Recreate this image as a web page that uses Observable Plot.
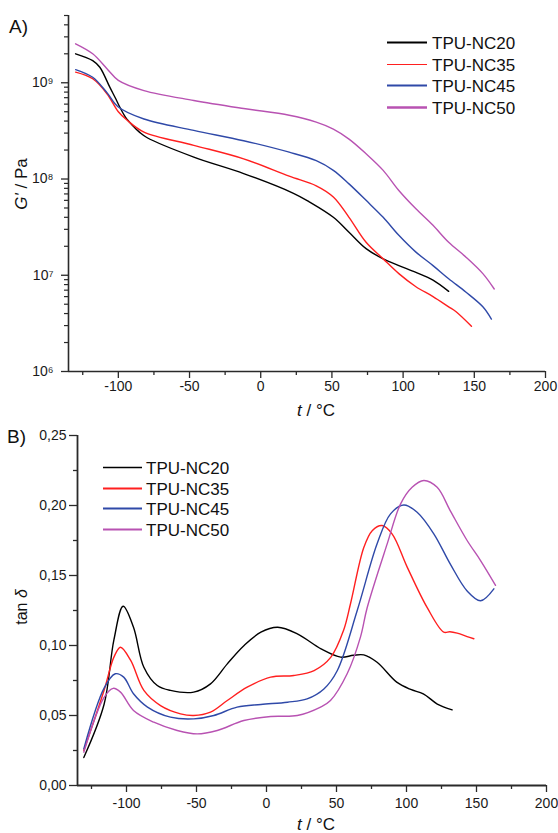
<!DOCTYPE html>
<html>
<head>
<meta charset="utf-8">
<script src="https://cdn.jsdelivr.net/npm/d3@7"></script>
<script src="https://cdn.jsdelivr.net/npm/@observablehq/plot@0.6"></script>
<style>
  html, body { margin: 0; padding: 0; background: #fff; }
  #chart svg { display: block; }
</style>
</head>
<body>
<div id="chart" style="width:558px"></div>
<script>
// ---------- series ----------
const series = ["TPU-NC20", "TPU-NC35", "TPU-NC45", "TPU-NC50"];
const colors = ["#000000", "#ff1f1f", "#2f49a8", "#b852b2"];

// ---------- A) storage modulus G' (Pa) vs t (°C) ----------
const g20T = [-130, -118, -113, -106, -102, -99, -95, -90, -85, -80, -47, -12, 23, 34, 51, 62, 74, 86, 97, 109, 121, 132];
const g20V = [2.0e9, 1.70e9, 1.45e9, 9.0e8, 6.9e8, 5.6e8, 4.4e8, 3.6e8, 3.05e8, 2.7e8, 1.69e8, 1.14e8, 7.1e7, 5.8e7, 4.0e7, 2.8e7, 1.89e7, 1.48e7, 1.26e7, 1.07e7, 8.9e6, 6.8e6];

const g35T = [-130, -118, -108, -100, -94, -82, -47, -12, 20, 39, 51, 62, 74, 86, 97, 109, 121, 132, 137, 148];
const g35V = [1.29e9, 1.10e9, 7.7e8, 5.0e8, 4.1e8, 3.07e8, 2.24e8, 1.62e8, 1.07e8, 8.5e7, 6.5e7, 4.0e7, 2.2e7, 1.48e7, 1.04e7, 7.6e6, 6.0e6, 4.7e6, 4.2e6, 2.95e6];

const g45T = [-130, -118, -108, -100, -82, -47, -12, 20, 39, 51, 62, 74, 86, 97, 109, 121, 132, 144, 156, 162];
const g45V = [1.37e9, 1.14e9, 7.9e8, 5.6e8, 4.2e8, 3.2e8, 2.5e8, 1.9e8, 1.55e8, 1.23e8, 8.9e7, 6.0e7, 4.0e7, 2.6e7, 1.74e7, 1.26e7, 9.2e6, 6.7e6, 4.7e6, 3.5e6];

const g50T = [-130, -118, -108, -100, -82, -47, -12, 20, 39, 51, 62, 74, 86, 97, 109, 121, 132, 144, 156, 164];
const g50V = [2.54e9, 2.0e9, 1.40e9, 1.06e9, 8.3e8, 6.55e8, 5.4e8, 4.6e8, 3.9e8, 3.3e8, 2.6e8, 1.83e8, 1.23e8, 7.6e7, 4.9e7, 3.3e7, 2.2e7, 1.55e7, 1.04e7, 7.2e6];

// ---------- B) tan δ vs t (°C) ----------
const d20T = [-130.5, -116, -109, -102.4, -95, -87.6, -78, -68.6, -52, -40, -28, -16, -4, 8, 22, 39, 53, 62, 69.5, 79, 93, 103, 112, 122, 132.6];
const d20V = [0.020, 0.058, 0.104, 0.128, 0.113, 0.0845, 0.0714, 0.0679, 0.0667, 0.0726, 0.0869, 0.100, 0.1095, 0.113, 0.1083, 0.0976, 0.0917, 0.093, 0.0933, 0.088, 0.0738, 0.0686, 0.0655, 0.0582, 0.054];

const d35T = [-130.5, -116, -109, -104.3, -97, -87.6, -75.7, -61.4, -52, -40, -28, -13.8, 3, 19.5, 34, 46, 55, 60, 69.5, 75.5, 82.6, 89.8, 100.5, 114.8, 126.6, 131, 136.2, 143.3, 148.1];
const d35V = [0.025, 0.068, 0.0917, 0.0988, 0.0893, 0.0679, 0.0571, 0.0512, 0.050, 0.0524, 0.0607, 0.0702, 0.0774, 0.0786, 0.0821, 0.0917, 0.1107, 0.1298, 0.170, 0.182, 0.1857, 0.1796, 0.156, 0.127, 0.1095, 0.1098, 0.1088, 0.1064, 0.1048];

const d45T = [-130.5, -116, -108, -102, -95, -85, -68.6, -52, -37.6, -21, -4, 15, 29, 41, 50.5, 64.8, 79, 88.6, 98.1, 107.6, 119.5, 131.4, 143.3, 152.9, 162.4];
const d45V = [0.0262, 0.0695, 0.0798, 0.0774, 0.0655, 0.056, 0.0488, 0.0476, 0.050, 0.056, 0.0579, 0.0595, 0.0619, 0.069, 0.082, 0.125, 0.1726, 0.194, 0.2004, 0.1952, 0.1798, 0.158, 0.139, 0.132, 0.1405];

const d50T = [-130.5, -116, -109.5, -104.3, -95, -80.5, -63.8, -49.5, -35.2, -16.2, 3, 22, 38.6, 45.7, 57.6, 67.1, 71.9, 86.2, 95.7, 104, 112.4, 121.9, 131.4, 143.3, 152.9, 163.6];
const d50V = [0.0238, 0.063, 0.0694, 0.0667, 0.0536, 0.0452, 0.0393, 0.0369, 0.0393, 0.0464, 0.0493, 0.050, 0.056, 0.0607, 0.0798, 0.106, 0.127, 0.1726, 0.201, 0.213, 0.2179, 0.213, 0.196, 0.175, 0.1607, 0.143];

// ---------- ticks ----------
const xMajor = [-100, -50, 0, 50, 100, 150, 200];
const xMinor = [-125, -75, -25, 25, 75, 125, 175];
const gMajor = [1e6, 1e7, 1e8, 1e9];
const gLabels = ["10\u2076", "10\u2077", "10\u2078", "10\u2079"];
const tanMajor = [0, 0.05, 0.10, 0.15, 0.20, 0.25];
const tanLabels = ["0,00", "0,05", "0,10", "0,15", "0,20", "0,25"];
const tanMinor = [0.025, 0.075, 0.125, 0.175, 0.225];

// ---------- build tables ----------
const rows = (name, ts, vs) => ts.map((t, i) => ({series: name, t, v: vs[i]}));
const gRows = [
  ...rows(series[0], g20T, g20V), ...rows(series[1], g35T, g35V),
  ...rows(series[2], g45T, g45V), ...rows(series[3], g50T, g50V)
];
const dRows = [
  ...rows(series[0], d20T, d20V), ...rows(series[1], d35T, d35V),
  ...rows(series[2], d45T, d45V), ...rows(series[3], d50T, d50V)
];
const gMinor = [];
for (const dec of [1e6, 1e7, 1e8, 1e9]) for (let k = 2; k <= 9; k++) if (k * dec <= 5e9) gMinor.push(k * dec);

const FONT = "'Liberation Sans', Arial, Helvetica, sans-serif";
const AX = "#2a2a2a";
const plotStyle = {fontFamily: FONT, fontSize: "14px", color: "#1a1a1a", background: "#fff", overflow: "visible"};
const colorScale = {domain: series, range: colors};

// ---------- chart A ----------
const chartA = Plot.plot({
  width: 558, height: 420,
  marginLeft: 68, marginRight: 13, marginTop: 15, marginBottom: 49,
  style: plotStyle,
  x: {domain: [-135, 200]},
  y: {type: "log", domain: [1e6, 5e9]},
  color: colorScale,
  marks: [
    Plot.line(gRows, {x: "t", y: "v", z: "series", stroke: "series", strokeWidth: 1.4, curve: "catmull-rom"}),
    Plot.axisX({ticks: xMinor, tickSize: 4, tickFormat: () => "", label: null, stroke: AX, strokeWidth: 1.3}),
    Plot.axisX({ticks: xMajor, tickSize: 7, tickPadding: 3, tickFormat: d => String(d), label: null, stroke: AX, strokeWidth: 1.3}),
    Plot.axisY({ticks: gMinor, tickSize: 4, tickFormat: () => "", label: null, stroke: AX, strokeWidth: 1.2}),
    Plot.axisY({ticks: gMajor, tickSize: 7, tickPadding: 8, tickFormat: d => gLabels[gMajor.indexOf(d)], label: null, stroke: AX, strokeWidth: 1.3}),
    Plot.ruleX([-135], {stroke: AX, strokeWidth: 1.6}),
    Plot.ruleY([1e6], {stroke: AX, strokeWidth: 1.6})
  ]
});

// ---------- chart B ----------
const chartB = Plot.plot({
  width: 558, height: 413,
  marginLeft: 77, marginRight: 12, marginTop: 15, marginBottom: 48,
  style: plotStyle,
  x: {domain: [-135, 200]},
  y: {domain: [0, 0.25]},
  color: colorScale,
  marks: [
    Plot.line(dRows, {x: "t", y: "v", z: "series", stroke: "series", strokeWidth: 1.4, curve: "catmull-rom"}),
    Plot.axisX({ticks: xMinor, tickSize: 4, tickFormat: () => "", label: null, stroke: AX, strokeWidth: 1.3}),
    Plot.axisX({ticks: xMajor, tickSize: 7, tickPadding: 6, tickFormat: d => String(d), label: null, stroke: AX, strokeWidth: 1.3}),
    Plot.axisY({ticks: tanMinor, tickSize: 4, tickFormat: () => "", label: null, stroke: AX, strokeWidth: 1.3}),
    Plot.axisY({ticks: tanMajor, tickSize: 8, tickPadding: 3, tickFormat: d => tanLabels[tanMajor.indexOf(d)], label: null, stroke: AX, strokeWidth: 1.3}),
    Plot.ruleX([-135], {stroke: AX, strokeWidth: 1.8}),
    Plot.ruleY([0], {stroke: AX, strokeWidth: 1.8})
  ]
});

// ---------- annotations (titles, panel letters, legends) ----------
function decorate(svgNode, opts) {
  const svg = d3.select(svgNode);
  const g = svg.append("g").attr("font-family", FONT).attr("fill", "#111").attr("text-anchor", "start");
  g.append("text").attr("x", opts.letter[0]).attr("y", opts.letter[1])
    .attr("text-anchor", "start").attr("font-size", 19).text(opts.letterText);
  const xt = g.append("text").attr("x", opts.xTitle[0]).attr("y", opts.xTitle[1])
    .attr("text-anchor", "middle").attr("font-size", 17);
  xt.append("tspan").attr("font-style", "italic").text("t");
  xt.append("tspan").text(" / \u00B0C");
  const yt = g.append("text").attr("transform", `translate(${opts.yTitle[0]},${opts.yTitle[1]}) rotate(-90)`)
    .attr("text-anchor", "middle").attr("font-size", opts.yTitleSize);
  opts.yTitleParts.forEach(([s, it]) => yt.append("tspan").attr("font-style", it ? "italic" : "normal").text(s));
  series.forEach((name, i) => {
    const y = Math.round(opts.legY + i * opts.legStep) + 0.5;
    g.append("line").attr("x1", opts.legX1).attr("x2", opts.legX2).attr("y1", y).attr("y2", y)
      .attr("stroke", colors[i]).attr("stroke-width", opts.legWidths[i]);
    g.append("text").attr("x", opts.legText).attr("y", y).attr("dy", "0.36em")
      .attr("text-anchor", "start").attr("font-size", 17).text(name);
  });
}

decorate(chartA, {
  letter: [9, 33], letterText: "A)",
  xTitle: [316, 416],
  yTitle: [27, 184], yTitleSize: 17, yTitleParts: [["G'", true], [" / Pa", false]],
  legX1: 387, legX2: 427, legText: 432, legY: 42, legStep: 21.6,
  legWidths: [2, 1.2, 2, 2.6]
});
decorate(chartB, {
  letter: [7, 23], letterText: "B)",
  xTitle: [316, 410],
  yTitle: [27, 187], yTitleSize: 16, yTitleParts: [["tan ", false], ["\u03B4", true]],
  legX1: 103, legX2: 142, legText: 146, legY: 47, legStep: 20.5,
  legWidths: [1.4, 2, 2.2, 2]
});

const host = document.getElementById("chart");
host.appendChild(chartA);
host.appendChild(chartB);
</script>
</body>
</html>
